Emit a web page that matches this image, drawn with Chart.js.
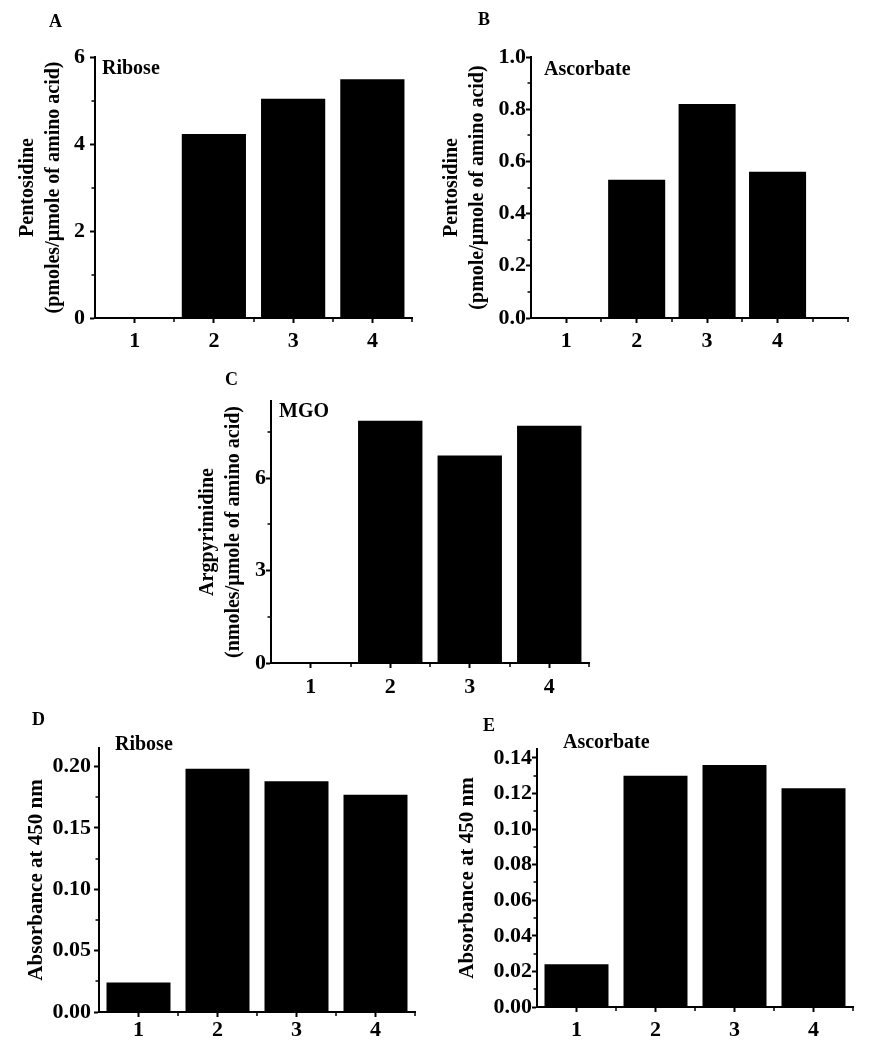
<!DOCTYPE html>
<html lang="en">
<head>
    <meta charset="utf-8">
    <title>Pentosidine, argpyrimidine and absorbance</title>
    <script src="https://cdn.jsdelivr.net/npm/chart.js"></script>
    <style>
        body { margin: 0; background: #fff; }
        #wrap { position: relative; width: 895px; height: 1050px; font-family: "Liberation Serif", "Times New Roman", serif; font-weight: bold; color: #000; }
        #wrap canvas { position: absolute; }
        .letter { position: absolute; font-size: 18px; line-height: 18px; white-space: nowrap; }
        .note { position: absolute; font-size: 20px; line-height: 20px; white-space: nowrap; }
    </style>
</head>
<body>
<div id="wrap">
    <canvas id="chartA" width="430" height="360" style="left:0;top:0"></canvas>
    <canvas id="chartB" width="465" height="360" style="left:430px;top:0"></canvas>
    <canvas id="chartC" width="450" height="340" style="left:180px;top:360px"></canvas>
    <canvas id="chartD" width="430" height="360" style="left:0;top:690px"></canvas>
    <canvas id="chartE" width="465" height="360" style="left:430px;top:690px"></canvas>

    <div class="letter" style="left:49px;top:12px">A</div>
    <div class="letter" style="left:478px;top:10px">B</div>
    <div class="letter" style="left:225px;top:370px">C</div>
    <div class="letter" style="left:32px;top:710px">D</div>
    <div class="letter" style="left:483px;top:716px">E</div>

    <div class="note" style="left:102px;top:57px">Ribose</div>
    <div class="note" style="left:544px;top:58px">Ascorbate</div>
    <div class="note" style="left:279px;top:400px">MGO</div>
    <div class="note" style="left:115px;top:733px">Ribose</div>
    <div class="note" style="left:563px;top:731px">Ascorbate</div>
</div>

<script>
    // sample groups on the x axis
    const groups = [1, 2, 3, 4];

    // bar heights
    const pentosidineRibose = [0, 4.23, 5.04, 5.49];
    const pentosidineAscorbate = [0, 0.53, 0.82, 0.56];
    const argpyrimidineMGO = [0, 7.86, 6.73, 7.70];
    const absorbanceRibose = [0.024, 0.198, 0.188, 0.177];
    const absorbanceAscorbate = [0.024, 0.130, 0.136, 0.123];

    // y tick labels (major) and the small ticks between them
    const ticksA = [0, 2, 4, 6];
    const minorA = [1, 3, 5];
    const ticksB = [0, 0.2, 0.4, 0.6, 0.8, 1.0];
    const minorB = [0.1, 0.3, 0.5, 0.7, 0.9];
    const ticksC = [0, 3, 6];
    const minorC = [1.5, 4.5, 7.5];
    const ticksD = [0, 0.05, 0.10, 0.15, 0.20];
    const minorD = [0.025, 0.075, 0.125, 0.175];
    const ticksE = [0, 0.02, 0.04, 0.06, 0.08, 0.10, 0.12, 0.14];
    const minorE = [0.01, 0.03, 0.05, 0.07, 0.09, 0.11, 0.13];

    const FONT = 'Liberation Serif';

    // short ticks between the labelled ones
    const minorTicks = {
        id: 'minorTicks',
        afterDraw(chart, args, opts) {
            const { ctx, scales: { x, y } } = chart;
            ctx.save();
            ctx.strokeStyle = '#000';
            ctx.lineWidth = 1.5;
            ctx.beginPath();
            opts.x.forEach(v => {
                const px = Math.round(x.getPixelForValue(v));
                ctx.moveTo(px, x.top);
                ctx.lineTo(px, x.top + 4);
            });
            opts.y.forEach(v => {
                const py = Math.round(y.getPixelForValue(v));
                ctx.moveTo(y.right, py);
                ctx.lineTo(y.right - 3.5, py);
            });
            ctx.stroke();
            ctx.restore();
        }
    };

    // p: placement of the canvas and of the plot area, in page pixels
    function makeChart(id, p) {
        const yWidth = p.area[0] - p.left;
        const xHeight = p.top + p.height - p.area[3];
        return new Chart(document.getElementById(id), {
            type: 'bar',
            data: {
                datasets: [{
                    data: p.values.map((v, i) => ({ x: groups[i], y: v })),
                    backgroundColor: '#000',
                    borderWidth: 0,
                    barPercentage: 0.81,
                    categoryPercentage: 1
                }]
            },
            plugins: [minorTicks],
            options: {
                responsive: false,
                animation: false,
                layout: {
                    padding: { left: 0, bottom: 0, top: p.area[2] - p.top, right: p.left + p.width - p.area[1] }
                },
                plugins: {
                    legend: { display: false },
                    tooltip: { enabled: false },
                    minorTicks: { x: p.xMinor, y: p.yMinor }
                },
                scales: {
                    x: {
                        type: 'linear',
                        min: 0.5,
                        max: p.xMax,
                        offset: false,
                        grid: { offset: false, drawOnChartArea: false, drawTicks: true, tickLength: 5, tickWidth: 2, tickColor: '#000' },
                        border: { display: true, color: '#000', width: 2 },
                        afterBuildTicks: s => { s.ticks = groups.map(v => ({ value: v })); },
                        afterFit: s => { s.height = xHeight; },
                        ticks: {
                            color: '#000',
                            padding: p.xPad,
                            maxRotation: 0,
                            autoSkip: false,
                            font: { family: FONT, size: 22, weight: 'bold' },
                            callback: v => String(v)
                        }
                    },
                    y: {
                        min: 0,
                        max: p.yMax,
                        grid: { drawOnChartArea: false, drawTicks: true, tickLength: 5, tickWidth: 2, tickColor: '#000' },
                        border: { display: true, color: '#000', width: 2 },
                        afterBuildTicks: s => { s.ticks = p.yTicks.map(v => ({ value: v })); },
                        afterFit: s => { s.width = yWidth; },
                        ticks: {
                            color: '#000',
                            padding: p.yPad,
                            autoSkip: false,
                            font: { family: FONT, size: 22, weight: 'bold' },
                            callback: v => v.toFixed(p.decimals)
                        },
                        title: {
                            display: true,
                            text: p.title,
                            color: '#000',
                            font: { family: FONT, size: p.titleSize, weight: 'bold', lineHeight: 1.3 },
                            padding: { top: p.titlePad, bottom: 0 }
                        }
                    }
                }
            }
        });
    }

    makeChart('chartA', {
        left: 0, top: 0, width: 430, height: 360, area: [95, 412, 57, 318],
        values: pentosidineRibose, yMax: 6, yTicks: ticksA, yMinor: minorA, decimals: 0,
        xMax: 4.5, xMinor: [1.5, 2.5, 3.5, 4.5], xPad: 5, yPad: 5, titlePad: 15, titleSize: 20,
        title: ['Pentosidine', '(pmoles/\u00b5mole of amino acid)']
    });

    makeChart('chartB', {
        left: 430, top: 0, width: 465, height: 360, area: [531, 848, 57, 318],
        values: pentosidineAscorbate, yMax: 1.0, yTicks: ticksB, yMinor: minorB, decimals: 1,
        xMax: 5, xMinor: [1.5, 2.5, 3.5, 4.5, 5], xPad: 5, yPad: 0, titlePad: 9, titleSize: 20,
        title: ['Pentosidine', '(pmole/\u00b5mole of amino acid)']
    });

    makeChart('chartC', {
        left: 180, top: 360, width: 450, height: 340, area: [271, 589, 401, 663],
        values: argpyrimidineMGO, yMax: 8.5, yTicks: ticksC, yMinor: minorC, decimals: 0,
        xMax: 4.5, xMinor: [1.5, 2.5, 3.5, 4.5], xPad: 6, yPad: 0, titlePad: 15, titleSize: 20,
        title: ['Argpyrimidine', '(nmoles/\u00b5mole of amino acid)']
    });

    makeChart('chartD', {
        left: 0, top: 690, width: 430, height: 360, area: [99, 415, 748, 1012],
        values: absorbanceRibose, yMax: 0.215, yTicks: ticksD, yMinor: minorD, decimals: 2,
        xMax: 4.5, xMinor: [1.5, 2.5, 3.5, 4.5], xPad: 0, yPad: 3, titlePad: 23, titleSize: 21,
        title: 'Absorbance at 450 nm'
    });

    makeChart('chartE', {
        left: 430, top: 690, width: 465, height: 360, area: [537, 853, 749, 1007],
        values: absorbanceAscorbate, yMax: 0.145, yTicks: ticksE, yMinor: minorE, decimals: 2,
        xMax: 4.5, xMinor: [1.5, 2.5, 3.5, 4.5], xPad: 5, yPad: 0, titlePad: 24, titleSize: 21,
        title: 'Absorbance at 450 nm'
    });
</script>
</body>
</html>
